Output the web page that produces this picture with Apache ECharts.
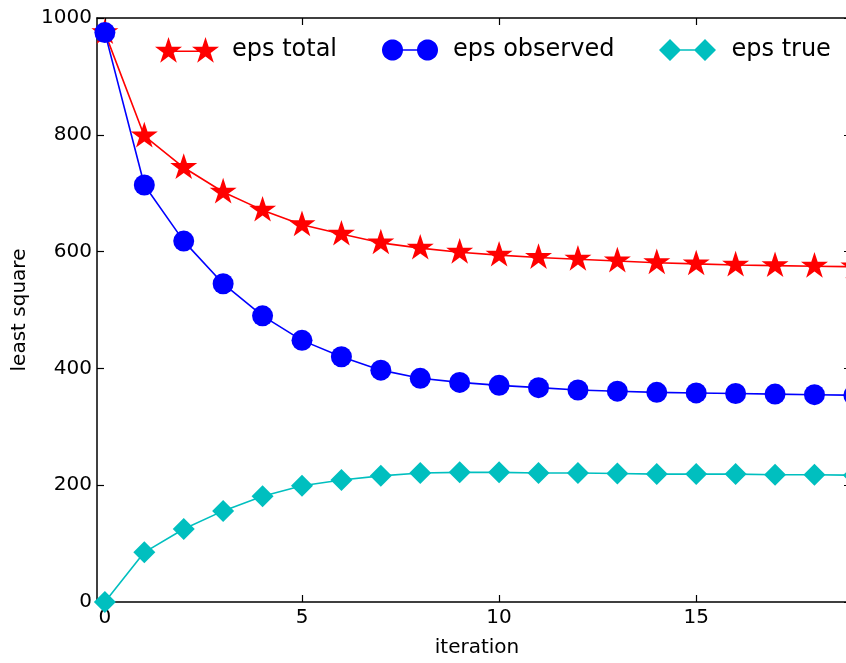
<!DOCTYPE html>
<html>
<head>
<meta charset="utf-8">
<script src="https://cdn.jsdelivr.net/npm/echarts@6/dist/echarts.min.js"></script>
<style>
html,body{margin:0;padding:0;background:#fff;}
#chart{width:846px;height:663px;}
</style>
</head>
<body>
<div id="chart"></div>
<script>
// ---- data ----
var iterations = [0,1,2,3,4,5,6,7,8,9,10,11,12,13,14,15,16,17,18,19];
var epsTotal    = [975,798,744,702,671,646,630,615,606,599,594,590,587,584,581,579,577,576,575,574];
var epsObserved = [975,714,618,545,490,448,420,397,383,376,371,367,363,361,359,358,357,356,355,354];
var epsTrue     = [0,85,125,156,181,199,209,216,221,222,222,221,221,220,219,219,219,218,218,217];
var xTickValues = [0,5,10,15];
var seriesNames = ['eps total','eps observed','eps true'];

function pairs(ys){ return iterations.map(function(x,i){ return [x, ys[i]]; }); }

function starPts(cx, cy, R){
  var r = R*0.381966, s = '';
  for (var i=0;i<10;i++){
    var a = (-90 + i*36)*Math.PI/180, rad = (i%2)? r : R;
    s += (i? 'L':'M') + (cx + rad*Math.cos(a)).toFixed(3) + ' ' + (cy + rad*Math.sin(a)).toFixed(3) + ' ';
  }
  return s + 'Z ';
}
function circlePts(cx, cy, R){
  var s = '';
  for (var i=0;i<48;i++){
    var a = i/48*2*Math.PI;
    s += (i? 'L':'M') + (cx + R*Math.cos(a)).toFixed(3) + ' ' + (cy + R*Math.sin(a)).toFixed(3) + ' ';
  }
  return s + 'Z ';
}
function diamondPts(cx, cy, R){
  return 'M'+cx+' '+(cy-R)+' L'+(cx+R)+' '+cy+' L'+cx+' '+(cy+R)+' L'+(cx-R)+' '+cy+' Z ';
}
function rectPts(x0, x1, h){
  return 'M'+x0+' '+(-h)+' L'+x1+' '+(-h)+' L'+x1+' '+h+' L'+x0+' '+h+' Z ';
}

var SR = 14.2, D1 = 37, D2 = 35;
var starSymbol = 'path://' + starPts(0,0,10);
var starLegend = 'path://' + starPts(0,0,SR) + rectPts(0,D1,0.8) + starPts(D1,0,SR);
var circLegend = 'path://' + circlePts(0,0,10.5) + rectPts(0,D2,0.8) + circlePts(D2,0,10.5);
var diaLegend  = 'path://' + diamondPts(0,0,11) + rectPts(0,D2,0.8) + diamondPts(D2,0,11);

var starW = 2*SR*Math.sin(72*Math.PI/180), starH = SR*(1+Math.cos(36*Math.PI/180));

var font = 'DejaVu Sans';
var axisLineStyle = {color:'#000', width:1.5};
var tickStyle = {color:'#000', width:1.2};

var chart = echarts.init(document.getElementById('chart'), null, {renderer:'canvas'});
var legendText = {fontFamily:font, fontSize:24, color:'#000', lineHeight:24};

chart.setOption({
  animation:false,
  backgroundColor:'#fff',
  grid:{left:97, top:18, right:0, height:585, containLabel:false},
  legend:[
    {data:[{name:seriesNames[0], icon:starLegend}], left:155, top:37, padding:0,
     itemWidth:starW+D1, itemHeight:starH, textStyle:Object.assign({padding:[0,0,0,8]},legendText)},
    {data:[{name:seriesNames[1], icon:circLegend}], left:382, top:38, padding:0,
     itemWidth:21+D2, itemHeight:21, textStyle:Object.assign({padding:[0,0,0,10]},legendText)},
    {data:[{name:seriesNames[2], icon:diaLegend}], left:659, top:38, padding:0,
     itemWidth:22+D2, itemHeight:22, textStyle:Object.assign({padding:[0,0,0,10.5]},legendText)}
  ],
  xAxis:[
    {type:'value', position:'bottom', min:-0.2, max:18.8,
     name:'iteration', nameLocation:'middle', nameGap:36,
     nameTextStyle:{fontFamily:font, fontSize:20, color:'#000', padding:[0,0,0,11]},
     axisLine:{show:true, onZero:false, lineStyle:axisLineStyle},
     axisTick:{show:true, inside:true, length:7, customValues:xTickValues, lineStyle:tickStyle},
     axisLabel:{show:true, customValues:xTickValues, margin:6, fontFamily:font, fontSize:20, color:'#000'},
     splitLine:{show:false}},
    {type:'value', position:'top', min:-0.2, max:18.8,
     axisLine:{show:true, onZero:false, lineStyle:axisLineStyle},
     axisTick:{show:true, inside:true, length:7, customValues:xTickValues, lineStyle:tickStyle},
     axisLabel:{show:false}, splitLine:{show:false}}
  ],
  yAxis:[
    {type:'value', position:'left', min:0, max:1000, interval:200,
     name:'least square', nameLocation:'middle', nameGap:56,
     nameTextStyle:{fontFamily:font, fontSize:20, color:'#000'},
     axisLine:{show:true, onZero:false, lineStyle:axisLineStyle},
     axisTick:{show:true, inside:true, length:7, lineStyle:tickStyle},
     axisLabel:{show:true, margin:5, fontFamily:font, fontSize:20, color:'#000',
                formatter:function(v){ return String(v); }},
     splitLine:{show:false}},
    {type:'value', position:'right', min:0, max:1000, interval:200,
     axisLine:{show:false, onZero:false},
     axisTick:{show:true, inside:true, length:2, lineStyle:tickStyle},
     axisLabel:{show:false}, splitLine:{show:false}}
  ],
  series:[
    {name:seriesNames[0], type:'line', data:pairs(epsTotal), xAxisIndex:0, yAxisIndex:0,
     symbol:starSymbol, symbolSize:[starW, starH], symbolOffset:[0, (starH/2 - SR)],
     showAllSymbol:true, clip:false,
     lineStyle:{color:'#ff0000', width:1.6}, itemStyle:{color:'#ff0000'}},
    {name:seriesNames[1], type:'line', data:pairs(epsObserved), xAxisIndex:0, yAxisIndex:0,
     symbol:'circle', symbolSize:21, showAllSymbol:true, clip:false,
     lineStyle:{color:'#0000ff', width:1.6}, itemStyle:{color:'#0000ff'}},
    {name:seriesNames[2], type:'line', data:pairs(epsTrue), xAxisIndex:0, yAxisIndex:0,
     symbol:'diamond', symbolSize:[22,22], showAllSymbol:true, clip:false,
     lineStyle:{color:'#00bfbf', width:1.6}, itemStyle:{color:'#00bfbf'}}
  ]
});
</script>
</body>
</html>
